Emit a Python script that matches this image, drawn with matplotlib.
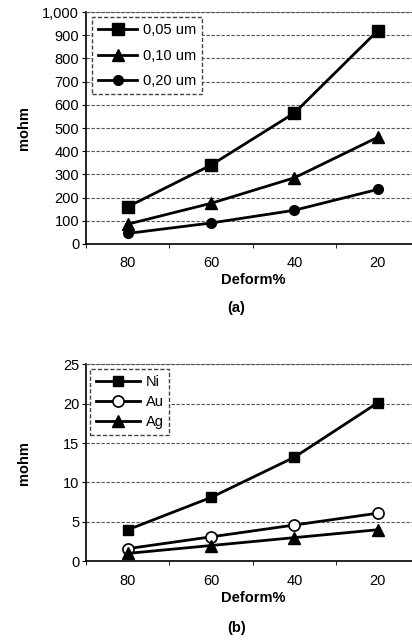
import matplotlib.pyplot as plt
import numpy as np

plt.rcParams['font.family'] = ['Liberation Sans', 'DejaVu Sans']

# x categories (deformation %, plotted left to right as 80 -> 20)
deform = ['80', '60', '40', '20']

# panel (a): contact resistance vs. plating thickness
thick_labels = ['0,05 um', '0,10 um', '0,20 um']
r_005 = [160, 340, 565, 920]
r_010 = [85, 175, 285, 460]
r_020 = [45, 90, 145, 235]

# panel (b): contact resistance vs. plating material
metal_labels = ['Ni', 'Au', 'Ag']
r_ni = [4.0, 8.1, 13.2, 20.1]
r_au = [1.6, 3.1, 4.6, 6.1]
r_ag = [1.0, 2.0, 3.0, 4.0]

fig = plt.figure(figsize=(4.12, 6.4), dpi=100)
ax1 = fig.add_axes([0.209, 0.619, 0.809, 0.362])
ax2 = fig.add_axes([0.209, 0.123, 0.809, 0.308])

x = np.arange(len(deform))


def style_axes(ax, ymax, ystep, fmt):
    ax.set_xlim(-0.5, len(deform) - 0.5)
    ax.set_ylim(0, ymax)
    ticks = np.arange(0, ymax + ystep, ystep)
    ax.set_yticks(ticks)
    ax.set_yticklabels([fmt(v) for v in ticks])
    ax.set_xticks(x)
    ax.set_xticklabels(deform)
    ax.set_xticks(np.arange(-0.5, len(deform), 1), minor=True)
    ax.tick_params(axis='x', which='major', length=0, pad=9, labelsize=10.5)
    ax.tick_params(axis='x', which='minor', length=3, direction='out')
    ax.tick_params(axis='y', length=3, direction='out', labelsize=10.5, pad=2)
    ax.grid(axis='y', color='#555555', linestyle=(0, (3, 1.5)), linewidth=0.8)
    ax.set_axisbelow(True)
    ax.spines['right'].set_visible(False)
    ax.spines['top'].set_color('#555555')
    ax.spines['top'].set_linestyle((0, (3, 1.5)))
    ax.spines['top'].set_linewidth(0.8)
    ax.spines['left'].set_linewidth(1.2)
    ax.spines['bottom'].set_linewidth(1.2)
    ax.set_xlabel('Deform%', fontsize=10.5, fontweight='bold', labelpad=2)
    ax.set_ylabel('mohm', fontsize=10.5, fontweight='bold')
    ax.yaxis.set_label_coords(-0.165, 0.5)


style_axes(ax1, 1000, 100, lambda v: f'{int(v):,}')
style_axes(ax2, 25, 5, lambda v: f'{int(v)}')

kw = dict(color='black', linewidth=2)
ax1.plot(x, r_005, marker='s', markersize=8, label=thick_labels[0], **kw)
ax1.plot(x, r_010, marker='^', markersize=8, label=thick_labels[1], **kw)
ax1.plot(x, r_020, marker='o', markersize=7, label=thick_labels[2], **kw)

ax2.plot(x, r_ni, marker='s', markersize=7, label=metal_labels[0], **kw)
ax2.plot(x, r_au, marker='o', markersize=8, markerfacecolor='white',
         markeredgewidth=1.2, label=metal_labels[1], **kw)
ax2.plot(x, r_ag, marker='^', markersize=8, label=metal_labels[2], **kw)


def add_legend(ax, anchor, spacing, hlen):
    leg = ax.legend(loc='upper left', bbox_to_anchor=anchor, fontsize=10.5,
                    frameon=True, fancybox=False, borderpad=0.4,
                    handlelength=hlen, labelspacing=spacing, handletextpad=0.4,
                    borderaxespad=0)
    frame = leg.get_frame()
    frame.set_edgecolor('#444444')
    frame.set_linestyle((0, (3, 1.5)))
    frame.set_linewidth(1.0)
    frame.set_alpha(1)


add_legend(ax1, (0.018, 0.978), 0.8, 2.7)
add_legend(ax2, (0.012, 0.975), 0.42, 3.0)

fig.text(0.574, 1 - 308 / 640, '(a)', ha='center', va='center',
         fontsize=10.5, fontweight='bold')
fig.text(0.574, 1 - 628 / 640, '(b)', ha='center', va='center',
         fontsize=10.5, fontweight='bold')

fig.savefig('out.png', dpi=100)
